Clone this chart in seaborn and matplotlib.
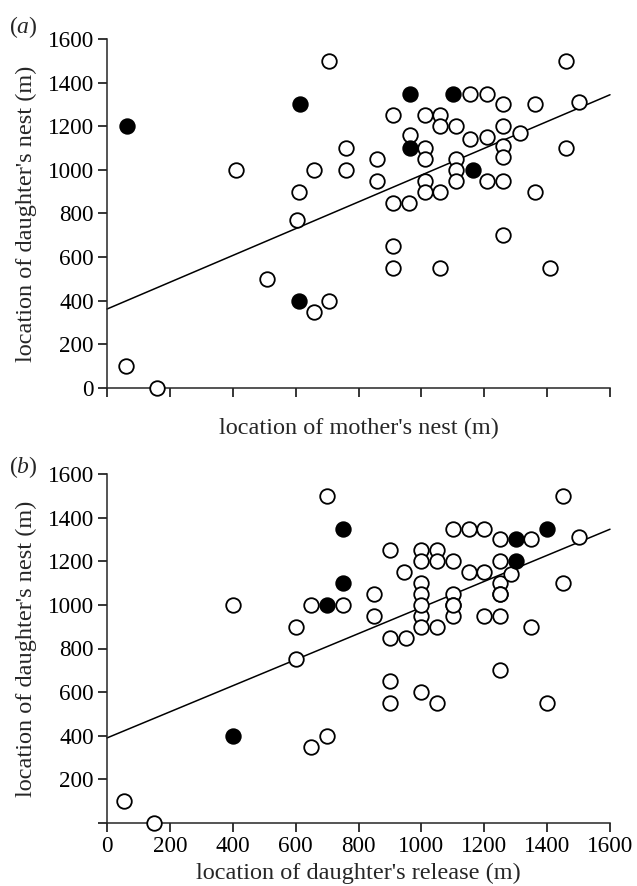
import pandas as pd
import numpy as np
import seaborn as sns
import matplotlib.pyplot as plt

# panel (a): mother's nest vs daughter's nest
a_open_x = [60, 160, 410, 510, 605, 610, 660, 660, 705, 705, 760, 760, 860, 860, 910, 910, 910, 910,
            960, 965, 1010, 1010, 1010, 1010, 1010, 1060, 1060, 1060, 1060, 1110, 1110, 1110, 1110,
            1155, 1155, 1210, 1210, 1210, 1260, 1260, 1260, 1260, 1260, 1260, 1315, 1360, 1360,
            1410, 1460, 1460, 1500]
a_open_y = [100, 0, 1000, 500, 770, 900, 1000, 350, 400, 1500, 1100, 1000, 1050, 950, 1250, 850,
            650, 550, 850, 1160, 1250, 1100, 1050, 950, 900, 1250, 1200, 900, 550, 1200, 1050, 1000,
            950, 1350, 1140, 1350, 1150, 950, 1300, 1200, 1110, 1060, 950, 700, 1170, 1300, 900,
            550, 1500, 1100, 1310]
a_fill_x = [65, 615, 610, 965, 965, 1100, 1165]
a_fill_y = [1200, 1300, 400, 1350, 1100, 1350, 1000]

# panel (b): daughter's release vs daughter's nest
b_open_x = [55, 150, 400, 600, 600, 650, 650, 700, 700, 750, 850, 850, 900, 900, 900, 900, 945,
            950, 1000, 1000, 1000, 1000, 1000, 1000, 1000, 1000, 1050, 1050, 1050, 1050, 1100,
            1100, 1100, 1100, 1100, 1100, 1150, 1150, 1200, 1200, 1200, 1250, 1250, 1250, 1250,
            1250, 1250, 1250, 1285, 1350, 1350, 1400, 1450, 1450, 1500]
b_open_y = [100, 0, 1000, 900, 750, 1000, 350, 1500, 400, 1000, 1050, 950, 1250, 850, 650, 550,
            1150, 850, 1250, 1200, 1100, 1050, 950, 900, 600, 1000, 1250, 1200, 900, 550, 1350,
            1200, 1050, 1000, 950, 1000, 1350, 1150, 1350, 1150, 950, 1300, 1200, 1100, 1050,
            950, 700, 1050, 1140, 1300, 900, 550, 1500, 1100, 1310]
b_fill_x = [400, 700, 750, 750, 1300, 1300, 1400]
b_fill_y = [400, 1000, 1350, 1100, 1300, 1200, 1350]

# fitted lines (intercept, slope)
line_a = (362, 0.614)
line_b = (390, 0.598)

ticks = [0, 200, 400, 600, 800, 1000, 1200, 1400, 1600]

sns.set_style("ticks")
plt.rcParams['font.family'] = ['Liberation Serif', 'DejaVu Serif']
plt.rcParams['mathtext.fontset'] = 'custom'
plt.rcParams['mathtext.it'] = 'Liberation Serif:italic'
plt.rcParams['mathtext.rm'] = 'Liberation Serif'

fig = plt.figure(figsize=(6.37, 8.86), dpi=100)
ax_a = fig.add_axes([107 / 637, 1 - 388 / 886, 503 / 637, 349 / 886])
ax_b = fig.add_axes([107 / 637, 1 - 823 / 886, 503 / 637, 349 / 886])


def draw(ax, ox, oy, fx, fy, line):
    xs = np.array([0, 1600])
    ax.plot(xs, line[0] + line[1] * xs, color="black", lw=1.1, zorder=2, clip_on=False)
    sns.scatterplot(x=ox, y=oy, ax=ax, s=110, facecolor="white", edgecolor="black",
                    linewidth=1.3, zorder=3, clip_on=False)
    sns.scatterplot(x=fx, y=fy, ax=ax, s=110, color="black", edgecolor="black",
                    linewidth=1.3, zorder=4, clip_on=False)
    ax.set_xlim(0, 1600)
    ax.set_ylim(0, 1600)
    ax.set_xticks(ticks)
    ax.set_yticks(ticks)
    sns.despine(ax=ax)
    for s in ["left", "bottom"]:
        ax.spines[s].set_linewidth(1.1)
    ax.tick_params(direction="out", length=6.5, width=1.1, labelsize=16.7, pad=3, colors="black")
    ax.set_ylabel("location of daughter's nest (m)", fontsize=17.5)
    ax.yaxis.set_label_coords(-0.14, 0.5)


draw(ax_a, a_open_x, a_open_y, a_fill_x, a_fill_y, line_a)
ax_a.set_xticklabels([])
ax_a.set_yticklabels([str(t) for t in ticks])
ax_a.set_xlabel("location of mother's nest (m)", fontsize=17.5)
ax_a.xaxis.set_label_coords(0.5, -0.085)

draw(ax_b, b_open_x, b_open_y, b_fill_x, b_fill_y, line_b)
ax_b.set_yticklabels([""] + [str(t) for t in ticks[1:]])
ax_b.set_xlabel("location of daughter's release (m)", fontsize=17.5)
ax_b.xaxis.set_label_coords(0.5, -0.115)

fig.text(23 / 637, 1 - 27 / 886, r"($a$)", fontsize=17, ha="center", va="center")
fig.text(23 / 637, 1 - 467 / 886, r"($b$)", fontsize=17, ha="center", va="center")

fig.savefig("out.png", dpi=100)
